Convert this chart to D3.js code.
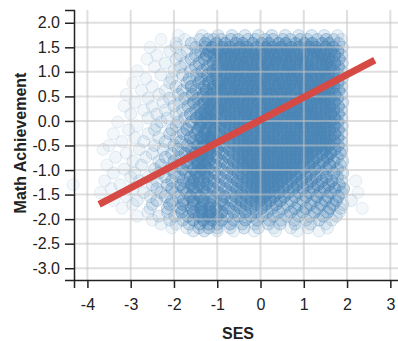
<!DOCTYPE html>
<html>
<head>
<meta charset="utf-8">
<script src="https://cdn.jsdelivr.net/npm/d3@7"></script>
<style>
body { margin: 0; background: #fff; }
svg { display: block; font-family: "Liberation Sans", Arial, sans-serif; }
</style>
</head>
<body>
<svg id="chart"></svg>
<script>
// tick labels
const xTicks = [-4, -3, -2, -1, 0, 1, 2, 3];
const yTicks = [-3, -2.5, -2, -1.5, -1, -0.5, 0, 0.5, 1, 1.5, 2];

// students: math achievement level -> SES values in that row
const mathLevels = [1.74, 1.66, 1.58, 1.50, 1.42, 1.34, 1.26, 1.18, 1.10, 1.02,
  0.94, 0.86, 0.78, 0.70, 0.62, 0.54, 0.46, 0.38, 0.30, 0.22,
  0.14, 0.06, -0.02, -0.10, -0.18, -0.26, -0.34, -0.42, -0.50, -0.58,
  -0.66, -0.74, -0.82, -0.90, -0.98, -1.06, -1.14, -1.22, -1.30, -1.38,
  -1.46, -1.54, -1.62, -1.70, -1.78, -1.86, -1.94, -2.02, -2.10, -2.18, -2.24];

const sesByLevel = [
  [-1.9, -1.35, -0.98, -0.66, -0.36, -0.05, 0.26, 0.57, 0.88, 1.18, 1.47, 1.78],
  [-2.3, -1.75, -1.4, -1.22, -1.08, -0.91, -0.68, -0.52, -0.29, -0.12, 0.11, 0.28, 0.52, 0.69, 0.92, 1.08, 1.31, 1.52, 1.69, 1.87],
  [-1.95, -1.6, -1.28, -1.02, -0.82, -0.57, -0.41, -0.18, 0.03, 0.19, 0.42, 0.58, 0.81, 1.02, 1.19, 1.42, 1.58, 1.81],
  [-2.55, -1.95, -1.5, -1.28, -1.12, -0.88, -0.71, -0.48, -0.32, -0.09, 0.12, 0.29, 0.48, 0.71, 0.89, 1.12, 1.28, 1.51, 1.68, 1.89],
  [-2.1, -1.7, -1.38, -1.2, -0.98, -0.79, -0.62, -0.38, -0.21, 0.02, 0.22, 0.39, 0.61, 0.78, 1.01, 1.22, 1.38, 1.62, 1.79],
  [-2.4, -1.85, -1.5, -1.25, -1.08, -0.92, -0.69, -0.51, -0.28, -0.11, 0.09, 0.31, 0.52, 0.69, 0.91, 1.08, 1.32, 1.49, 1.71, 1.88],
  [-2.62, -1.95, -1.6, -1.3, -1.01, -0.81, -0.59, -0.42, -0.19, 0.01, 0.21, 0.38, 0.59, 0.82, 0.98, 1.21, 1.41, 1.59, 1.82],
  [-2.2, -1.75, -1.42, -1.1, -0.89, -0.72, -0.49, -0.31, -0.08, 0.11, 0.32, 0.49, 0.68, 0.91, 1.09, 1.29, 1.52, 1.71, 1.89],
  [-2.45, -1.85, -1.5, -1.22, -0.99, -0.78, -0.61, -0.39, -0.2, 0.02, 0.18, 0.41, 0.62, 0.79, 1.01, 1.18, 1.42, 1.61, 1.8],
  [-2.85, -2.0, -1.62, -1.35, -1.1, -0.91, -0.68, -0.52, -0.29, -0.12, 0.1, 0.28, 0.51, 0.7, 0.88, 1.11, 1.31, 1.48, 1.69, 1.88],
  [-2.3, -1.8, -1.48, -1.22, -1.02, -0.81, -0.58, -0.41, -0.18, 0.0, 0.22, 0.39, 0.6, 0.78, 1.02, 1.19, 1.4, 1.58, 1.8],
  [-2.65, -2.05, -1.65, -1.38, -1.11, -0.89, -0.7, -0.49, -0.31, -0.1, 0.11, 0.3, 0.49, 0.72, 0.9, 1.08, 1.3, 1.51, 1.7, 1.89],
  [-2.95, -2.1, -1.7, -1.42, -1.2, -0.98, -0.79, -0.61, -0.38, -0.21, 0.01, 0.19, 0.42, 0.59, 0.8, 0.99, 1.21, 1.38, 1.62, 1.79],
  [-2.5, -1.95, -1.6, -1.3, -1.09, -0.92, -0.69, -0.52, -0.28, -0.09, 0.09, 0.32, 0.51, 0.68, 0.91, 1.1, 1.29, 1.52, 1.69, 1.88],
  [-2.75, -2.2, -1.8, -1.5, -1.25, -1.0, -0.82, -0.58, -0.42, -0.19, 0.02, 0.21, 0.38, 0.61, 0.79, 1.02, 1.19, 1.41, 1.59, 1.81],
  [-3.1, -2.35, -1.9, -1.58, -1.32, -1.12, -0.88, -0.71, -0.48, -0.3, -0.11, 0.12, 0.29, 0.5, 0.69, 0.92, 1.09, 1.31, 1.48, 1.72, 1.88],
  [-2.6, -2.1, -1.75, -1.45, -1.22, -1.01, -0.79, -0.62, -0.39, -0.22, 0.0, 0.18, 0.41, 0.6, 0.81, 0.98, 1.22, 1.39, 1.61, 1.78],
  [-2.9, -2.25, -1.85, -1.55, -1.3, -1.12, -0.91, -0.69, -0.51, -0.29, -0.08, 0.1, 0.31, 0.49, 0.71, 0.89, 1.12, 1.3, 1.49, 1.7, 1.9],
  [-3.15, -2.5, -2.0, -1.68, -1.4, -1.2, -0.99, -0.81, -0.59, -0.4, -0.19, 0.01, 0.22, 0.39, 0.58, 0.82, 1.0, 1.18, 1.41, 1.6, 1.8],
  [-2.7, -2.2, -1.8, -1.5, -1.3, -1.13, -0.89, -0.72, -0.49, -0.31, -0.1, 0.11, 0.28, 0.52, 0.7, 0.9, 1.1, 1.29, 1.51, 1.69, 1.87],
  [-3.0, -2.4, -1.95, -1.62, -1.38, -1.22, -1.02, -0.8, -0.6, -0.38, -0.2, 0.02, 0.19, 0.41, 0.61, 0.79, 1.01, 1.2, 1.39, 1.62, 1.8],
  [-2.6, -2.15, -1.75, -1.48, -1.28, -1.12, -0.92, -0.7, -0.5, -0.29, -0.11, 0.1, 0.3, 0.5, 0.71, 0.9, 1.11, 1.3, 1.49, 1.71, 1.88],
  [-3.3, -2.3, -1.9, -1.6, -1.38, -1.22, -1.04, -0.81, -0.61, -0.39, -0.19, 0.01, 0.2, 0.4, 0.59, 0.81, 0.99, 1.2, 1.4, 1.61, 1.79],
  [-2.85, -2.4, -1.95, -1.65, -1.4, -1.14, -0.93, -0.71, -0.49, -0.3, -0.09, 0.1, 0.31, 0.49, 0.7, 0.91, 1.09, 1.3, 1.5, 1.7, 1.89],
  [-3.05, -2.45, -2.05, -1.7, -1.45, -1.26, -1.07, -0.82, -0.6, -0.41, -0.2, 0.0, 0.21, 0.39, 0.6, 0.8, 1.0, 1.21, 1.39, 1.6, 1.8],
  [-3.4, -2.6, -2.1, -1.78, -1.5, -1.3, -1.12, -0.95, -0.7, -0.5, -0.31, -0.1, 0.09, 0.3, 0.51, 0.69, 0.9, 1.1, 1.31, 1.49, 1.71, 1.88],
  [-2.9, -2.35, -1.95, -1.62, -1.38, -1.22, -1.1, -0.84, -0.61, -0.4, -0.21, 0.01, 0.2, 0.4, 0.61, 0.79, 1.01, 1.19, 1.4, 1.6, 1.79],
  [-3.2, -2.7, -2.2, -1.85, -1.55, -1.32, -1.15, -0.97, -0.72, -0.5, -0.29, -0.09, 0.11, 0.3, 0.5, 0.7, 0.89, 1.1, 1.3, 1.51, 1.7, 1.87],
  [-3.5, -2.45, -2.0, -1.7, -1.45, -1.3, -1.13, -0.86, -0.61, -0.39, -0.2, 0.0, 0.21, 0.41, 0.59, 0.8, 1.0, 1.2, 1.41, 1.59, 1.8],
  [-3.64, -2.8, -2.25, -1.9, -1.6, -1.38, -1.2, -1.0, -0.72, -0.51, -0.31, -0.1, 0.1, 0.29, 0.5, 0.71, 0.9, 1.09, 1.3, 1.5, 1.72, 1.88],
  [-3.1, -2.5, -2.05, -1.75, -1.5, -1.35, -1.16, -0.88, -0.62, -0.4, -0.19, 0.01, 0.2, 0.4, 0.61, 0.8, 1.01, 1.2, 1.42, 1.62, 1.85],
  [-3.35, -2.65, -2.2, -1.88, -1.6, -1.4, -1.22, -1.02, -0.74, -0.5, -0.3, -0.09, 0.1, 0.31, 0.5, 0.7, 0.9, 1.1, 1.3, 1.55, 1.78],
  [-2.95, -2.35, -2.0, -1.7, -1.45, -1.32, -1.18, -0.9, -0.62, -0.41, -0.2, 0.0, 0.2, 0.41, 0.6, 0.8, 1.0, 1.22, 1.45, 1.7, 1.9],
  [-3.55, -2.75, -2.3, -1.95, -1.68, -1.45, -1.28, -1.04, -0.76, -0.51, -0.3, -0.1, 0.11, 0.3, 0.5, 0.71, 0.9, 1.12, 1.35, 1.6, 1.85],
  [-3.15, -2.45, -2.1, -1.8, -1.55, -1.38, -1.2, -0.92, -0.64, -0.4, -0.19, 0.01, 0.2, 0.4, 0.6, 0.79, 1.0, 1.25, 1.52, 1.78],
  [-3.4, -2.9, -2.35, -2.0, -1.72, -1.5, -1.3, -1.06, -0.78, -0.52, -0.3, -0.09, 0.1, 0.31, 0.5, 0.7, 0.92, 1.15, 1.42, 1.7, 1.9],
  [-3.0, -2.6, -2.2, -1.88, -1.62, -1.42, -1.22, -0.94, -0.66, -0.41, -0.2, 0.0, 0.21, 0.4, 0.6, 0.82, 1.05, 1.28, 1.52, 1.78],
  [-3.6, -2.8, -2.4, -2.05, -1.78, -1.55, -1.32, -1.08, -0.8, -0.53, -0.31, -0.1, 0.1, 0.3, 0.5, 0.72, 0.95, 1.18, 1.42, 1.65, 1.88, 2.2],
  [-4.33, -3.25, -2.5, -2.15, -1.85, -1.6, -1.42, -1.24, -0.96, -0.68, -0.42, -0.2, 0.01, 0.2, 0.41, 0.62, 0.85, 1.08, 1.32, 1.58, 1.82],
  [-3.45, -2.95, -2.4, -2.05, -1.78, -1.55, -1.32, -1.1, -0.82, -0.55, -0.32, -0.1, 0.1, 0.31, 0.52, 0.76, 0.98, 1.22, 1.48, 1.72, 1.92],
  [-3.7, -2.7, -2.3, -1.98, -1.7, -1.48, -1.26, -0.98, -0.7, -0.44, -0.2, 0.0, 0.21, 0.42, 0.65, 0.88, 1.12, 1.38, 1.62, 1.88, 2.25],
  [-3.1, -2.55, -2.2, -1.9, -1.62, -1.4, -1.12, -0.84, -0.57, -0.32, -0.1, 0.11, 0.32, 0.55, 0.8, 1.05, 1.3, 1.55, 1.8],
  [-3.4, -2.85, -2.4, -2.05, -1.78, -1.55, -1.32, -1.1, -0.9, -0.68, -0.45, -0.21, 0.01, 0.22, 0.46, 0.72, 0.98, 1.25, 1.5, 1.75, 2.1],
  [-2.95, -2.5, -2.1, -1.8, -1.55, -1.35, -1.16, -0.86, -0.58, -0.33, -0.1, 0.12, 0.36, 0.62, 0.88, 1.15, 1.4, 1.68, 1.9],
  [-3.2, -2.55, -2.15, -1.85, -1.6, -1.38, -1.18, -1.03, -0.74, -0.47, -0.22, 0.02, 0.26, 0.52, 0.8, 1.05, 1.32, 1.6, 1.85, 2.35],
  [-2.6, -2.15, -1.82, -1.55, -1.35, -1.15, -0.9, -0.62, -0.35, -0.1, 0.15, 0.42, 0.7, 0.98, 1.25, 1.55, 1.82],
  [-2.85, -2.35, -1.98, -1.68, -1.42, -1.2, -1.0, -0.77, -0.5, -0.23, 0.03, 0.3, 0.6, 0.88, 1.15, 1.45, 1.75],
  [-2.5, -2.1, -1.8, -1.55, -1.32, -1.12, -0.9, -0.62, -0.35, -0.08, 0.2, 0.48, 0.78, 1.05, 1.35, 1.65],
  [-2.3, -1.95, -1.65, -1.4, -1.2, -0.99, -0.7, -0.42, -0.13, 0.18, 0.45, 0.8, 1.15, 1.5],
  [-2.05, -1.7, -1.42, -1.2, -1.0, -0.7, -0.38, -0.05, 0.3, 0.7, 1.1, 1.55],
  [-1.55, -1.3, -1.0, -0.62, -0.15, 0.35, 0.85, 1.35]
];

// fitted line, ends at the lowest and highest SES
const lineSes = [-3.73, 2.64];
const lineMath = [-1.70, 1.24];

const WIDTH = 398;
const HEIGHT = 341;

const svg = d3.select('#chart')
  .attr('width', WIDTH)
  .attr('height', HEIGHT);

const xScale = d3.scaleLinear().domain([-4.31, 3.2]).range([74, 399]);
const yScale = d3.scaleLinear().domain([-3.24, 2.26]).range([280, 10]);

const points = [];
mathLevels.forEach((m, i) => {
  sesByLevel[i].forEach(s => points.push({ses: s, math: m, px: xScale(s), py: yScale(m)}));
});

// where dots pile up the overlap gets darker, lone ones stay faint
const R = 16;
const quad = d3.quadtree(points, d => d.px, d => d.py);
points.forEach(p => {
  let n = 0;
  quad.visit((node, x0, y0, x1, y1) => {
    if (!node.length) {
      let q = node;
      do {
        const d = q.data;
        if (d !== p && Math.hypot(d.px - p.px, d.py - p.py) < R) n++;
      } while ((q = q.next));
    }
    return x0 > p.px + R || x1 < p.px - R || y0 > p.py + R || y1 < p.py - R;
  });
  p.alpha = 0.06 + 0.5 * Math.pow(Math.min(1, n / 22), 2.5);
});

const defs = svg.append('defs');
defs.append('filter')
  .attr('id', 'soft')
  .append('feGaussianBlur')
  .attr('stdDeviation', 0.6);

// dots
svg.append('g')
  .attr('filter', 'url(#soft)')
  .selectAll('circle')
  .data(points)
  .enter()
  .append('circle')
  .attr('cx', d => d.px)
  .attr('cy', d => d.py)
  .attr('r', 6)
  .style('fill', 'steelblue')
  .style('fill-opacity', d => d.alpha)
  .style('stroke', 'steelblue')
  .style('stroke-opacity', d => Math.min(0.65, d.alpha * 1.3 + 0.04));

// grid sits over the dots
const grid = svg.append('g')
  .style('stroke', '#c4c4c4')
  .style('stroke-opacity', 0.55)
  .style('stroke-width', 2);

grid.selectAll('.vgrid')
  .data(xTicks)
  .enter()
  .append('line')
  .attr('x1', d => xScale(d))
  .attr('x2', d => xScale(d))
  .attr('y1', yScale.range()[1])
  .attr('y2', yScale.range()[0]);

grid.selectAll('.hgrid')
  .data(yTicks)
  .enter()
  .append('line')
  .attr('x1', xScale.range()[0])
  .attr('x2', WIDTH)
  .attr('y1', d => yScale(d))
  .attr('y2', d => yScale(d));

// regression line
svg.append('line')
  .attr('x1', xScale(lineSes[0]))
  .attr('y1', yScale(lineMath[0]))
  .attr('x2', xScale(lineSes[1]))
  .attr('y2', yScale(lineMath[1]))
  .style('stroke', '#d64a45')
  .style('stroke-width', 7);

// axes
const xAxis = svg.append('g')
  .attr('transform', 'translate(0,280)')
  .call(d3.axisBottom(xScale).tickValues(xTicks).tickFormat(d => String(d)).tickSize(8).tickPadding(11));

const yAxis = svg.append('g')
  .attr('transform', 'translate(74,0)')
  .call(d3.axisLeft(yScale).tickValues(yTicks).tickFormat(d => d.toFixed(1)).tickSize(9).tickPadding(5));

[xAxis, yAxis].forEach(a => {
  a.selectAll('path, line').attr('stroke', '#222').attr('stroke-width', 1.5);
  a.selectAll('text')
    .attr('fill', '#222')
    .style('font-size', '16px')
    .style('font-family', '"Liberation Sans", Arial, sans-serif');
});

// axis titles
svg.append('text')
  .text('SES')
  .attr('x', 238)
  .attr('y', 339)
  .attr('text-anchor', 'middle')
  .style('font-size', '16px')
  .style('font-weight', 'bold')
  .attr('fill', '#222');

svg.append('text')
  .text('Math Achievement')
  .attr('transform', 'translate(26,143) rotate(-90)')
  .attr('text-anchor', 'middle')
  .style('font-size', '16px')
  .style('font-weight', 'bold')
  .attr('fill', '#222');
</script>
</body>
</html>
